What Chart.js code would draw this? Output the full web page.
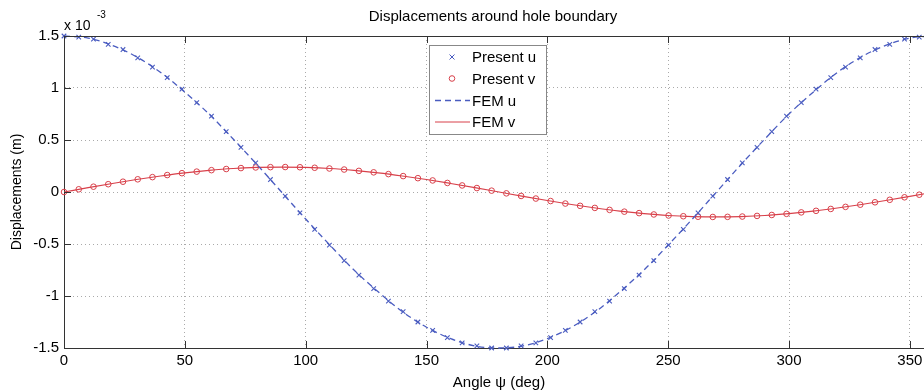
<!DOCTYPE html>
<html>
<head>
<meta charset="utf-8">
<script src="https://cdn.jsdelivr.net/npm/chart.js@4.4.1/dist/chart.umd.min.js"></script>
<style>
  html, body { margin: 0; padding: 0; background: #fff; overflow: hidden; }
  #wrap { width: 940px; height: 392px; }
</style>
</head>
<body>
<div id="wrap"><canvas id="dispChart" width="940" height="392"></canvas></div>
<script>
// angles of the "Present" solution points (deg)
const angles = [0, 6.1, 12.2, 18.31, 24.41, 30.51, 36.61, 42.71, 48.81, 54.92,
  61.02, 67.12, 73.22, 79.32, 85.42, 91.53, 97.63, 103.73, 109.83, 115.93,
  122.03, 128.14, 134.24, 140.34, 146.44, 152.54, 158.64, 164.75, 170.85, 176.95,
  183.05, 189.15, 195.25, 201.36, 207.46, 213.56, 219.66, 225.76, 231.86, 237.97,
  244.07, 250.17, 256.27, 262.37, 268.47, 274.58, 280.68, 286.78, 292.88, 298.98,
  305.08, 311.19, 317.29, 323.39, 329.49, 335.59, 341.69, 347.8, 353.9, 360];

// values in units of 1e-3 m
const presentU = [1.50, 1.49, 1.47, 1.42, 1.37, 1.29, 1.20, 1.10, 0.99, 0.86,
  0.73, 0.58, 0.43, 0.28, 0.12, -0.04, -0.20, -0.36, -0.51, -0.66,
  -0.80, -0.93, -1.05, -1.15, -1.25, -1.33, -1.40, -1.45, -1.48, -1.50,
  -1.50, -1.48, -1.45, -1.40, -1.33, -1.25, -1.15, -1.05, -0.93, -0.80,
  -0.66, -0.51, -0.36, -0.20, -0.04, 0.12, 0.28, 0.43, 0.58, 0.73,
  0.86, 0.99, 1.10, 1.20, 1.29, 1.37, 1.42, 1.47, 1.49, 1.50];

const presentV = [0.000, 0.026, 0.051, 0.075, 0.099, 0.122, 0.143, 0.163, 0.181, 0.196,
  0.210, 0.221, 0.230, 0.236, 0.239, 0.240, 0.238, 0.233, 0.226, 0.216,
  0.203, 0.189, 0.172, 0.153, 0.133, 0.111, 0.087, 0.063, 0.038, 0.013,
  -0.013, -0.038, -0.063, -0.087, -0.111, -0.133, -0.153, -0.172, -0.189, -0.203,
  -0.216, -0.226, -0.233, -0.238, -0.240, -0.239, -0.236, -0.230, -0.221, -0.210,
  -0.196, -0.181, -0.163, -0.143, -0.122, -0.099, -0.075, -0.051, -0.026, 0.000];

// FEM reference curves
const femAngles = [0, 10, 20, 30, 40, 50, 60, 70, 80, 90, 100, 110, 120, 130, 140, 150, 160, 170, 180,
  190, 200, 210, 220, 230, 240, 250, 260, 270, 280, 290, 300, 310, 320, 330, 340, 350, 360];
const femU = [1.50, 1.48, 1.41, 1.30, 1.15, 0.96, 0.75, 0.51, 0.26, 0.00, -0.26, -0.51, -0.75, -0.96, -1.15, -1.30, -1.41, -1.48, -1.50,
  -1.48, -1.41, -1.30, -1.15, -0.96, -0.75, -0.51, -0.26, 0.00, 0.26, 0.51, 0.75, 0.96, 1.15, 1.30, 1.41, 1.48, 1.50];
const femV = [0, 0.042, 0.082, 0.120, 0.154, 0.184, 0.208, 0.226, 0.236, 0.240, 0.236, 0.226, 0.208, 0.184, 0.154, 0.120, 0.082, 0.042, 0,
  -0.042, -0.082, -0.120, -0.154, -0.184, -0.208, -0.226, -0.236, -0.240, -0.236, -0.226, -0.208, -0.184, -0.154, -0.120, -0.082, -0.042, 0];

const xTicks = [0, 50, 100, 150, 200, 250, 300, 350];
const yTicks = [-1.5, -1, -0.5, 0, 0.5, 1, 1.5];

const BLUE = '#4a5cc0';
const RED = '#d8404a';
const FONT = '"Liberation Sans", Arial, sans-serif';

const pts = (xs, ys) => xs.map((x, i) => ({ x: x, y: ys[i] }));

//..frame, inward ticks, title, exponent and legend box
const matlabFrame = {
  id: 'matlabFrame',
  afterDraw(chart) {
    const ctx = chart.ctx;
    const a = chart.chartArea;
    const xs = chart.scales.x, ys = chart.scales.y;
    ctx.save();
    ctx.strokeStyle = '#333';
    ctx.lineWidth = 1;
    ctx.beginPath();
    ctx.moveTo(a.left, a.top + 0.5);
    ctx.lineTo(a.right, a.top + 0.5);
    xTicks.forEach(t => {
      const px = Math.round(xs.getPixelForValue(t)) + 0.5;
      ctx.moveTo(px, a.bottom); ctx.lineTo(px, a.bottom - 7);
      ctx.moveTo(px, a.top); ctx.lineTo(px, a.top + 7);
    });
    yTicks.forEach(t => {
      const py = Math.round(ys.getPixelForValue(t)) + 0.5;
      ctx.moveTo(a.left, py); ctx.lineTo(a.left + 7, py);
    });
    ctx.stroke();

    // title
    ctx.fillStyle = '#000';
    ctx.font = '15px ' + FONT;
    ctx.textAlign = 'center';
    ctx.textBaseline = 'middle';
    ctx.fillText('Displacements around hole boundary', 493, 17);

    // exponent
    ctx.textAlign = 'left';
    ctx.font = '14px ' + FONT;
    ctx.fillText('x 10', 64, 26);
    ctx.font = '10px ' + FONT;
    ctx.fillText('-3', 97, 15);

    // legend
    const lx = 429, ly = 45, lw = 117, lh = 89;
    ctx.fillStyle = '#fff';
    ctx.fillRect(lx, ly, lw, lh);
    ctx.strokeStyle = '#888';
    ctx.strokeRect(lx + 0.5, ly + 0.5, lw, lh);
    const rows = [57, 78.5, 100.5, 122];
    ctx.font = '15px ' + FONT;
    ctx.fillStyle = '#000';
    ['Present u', 'Present v', 'FEM u', 'FEM v'].forEach((t, i) => ctx.fillText(t, 472, rows[i] + 1));
    // cross
    ctx.strokeStyle = BLUE;
    ctx.beginPath();
    ctx.moveTo(449.5, rows[0] - 2.5); ctx.lineTo(454.5, rows[0] + 2.5);
    ctx.moveTo(454.5, rows[0] - 2.5); ctx.lineTo(449.5, rows[0] + 2.5);
    ctx.stroke();
    // circle
    ctx.strokeStyle = RED;
    ctx.beginPath();
    ctx.arc(452, rows[1], 2.8, 0, Math.PI * 2);
    ctx.stroke();
    // dashed line
    ctx.strokeStyle = BLUE;
    ctx.lineWidth = 1.3;
    ctx.setLineDash([6, 4]);
    ctx.beginPath();
    ctx.moveTo(435, rows[2]); ctx.lineTo(470, rows[2]);
    ctx.stroke();
    ctx.setLineDash([]);
    ctx.strokeStyle = RED;
    ctx.lineWidth = 1;
    ctx.beginPath();
    ctx.moveTo(435, rows[3]); ctx.lineTo(470, rows[3]);
    ctx.stroke();
    ctx.restore();
  }
};

document.addEventListener('DOMContentLoaded', function () {
  new Chart(document.getElementById('dispChart'), {
    type: 'scatter',
    data: {
      datasets: [
        {
          label: 'FEM u',
          data: pts(femAngles, femU),
          showLine: true,
          borderColor: BLUE,
          borderWidth: 1.3,
          borderDash: [6, 4],
          pointRadius: 0,
          cubicInterpolationMode: 'monotone',
          clip: false
        },
        {
          label: 'FEM v',
          data: pts(femAngles, femV),
          showLine: true,
          borderColor: RED,
          borderWidth: 1.2,
          pointRadius: 0,
          cubicInterpolationMode: 'monotone',
          clip: false
        },
        {
          label: 'Present u',
          data: pts(angles, presentU),
          pointStyle: 'crossRot',
          pointRadius: 3.2,
          pointBorderWidth: 1.1,
          borderColor: BLUE,
          backgroundColor: BLUE,
          clip: false
        },
        {
          label: 'Present v',
          data: pts(angles, presentV),
          pointStyle: 'circle',
          pointRadius: 2.8,
          pointBorderWidth: 1,
          borderColor: RED,
          backgroundColor: 'rgba(0,0,0,0)',
          clip: false
        }
      ]
    },
    options: {
      responsive: false,
      animation: false,
      events: [],
      layout: { padding: { top: 36, right: 6, left: 0, bottom: 0 } },
      plugins: {
        legend: { display: false },
        title: { display: false },
        tooltip: { enabled: false }
      },
      scales: {
        x: {
          type: 'linear',
          min: 0,
          max: 360,
          afterBuildTicks: s => { s.ticks = xTicks.map(v => ({ value: v })); },
          afterFit: s => { s.height = 44; },
          ticks: { color: '#000', font: { family: FONT, size: 15 }, padding: 4, maxRotation: 0, callback: v => String(v) },
          grid: { color: '#aaa', lineWidth: 1, drawTicks: false },
          border: { color: '#333', width: 1, dash: [1, 3] },
          title: { display: true, text: 'Angle ψ (deg)', color: '#000', font: { family: FONT, size: 15 }, padding: { top: 0, bottom: 0 } }
        },
        y: {
          type: 'linear',
          min: -1.5,
          max: 1.5,
          afterBuildTicks: s => { s.ticks = yTicks.map(v => ({ value: v })); },
          afterFit: s => { s.width = 64; },
          ticks: { color: '#000', font: { family: FONT, size: 15 }, padding: 5, callback: v => String(v) },
          grid: { color: '#aaa', lineWidth: 1, drawTicks: false },
          border: { color: '#333', width: 1, dash: [1, 3] },
          title: { display: true, text: 'Displacements (m)', color: '#000', font: { family: FONT, size: 14 }, padding: { top: 9, bottom: 0 } }
        }
      }
    },
    plugins: [matlabFrame]
  });
});
</script>
</body>
</html>
